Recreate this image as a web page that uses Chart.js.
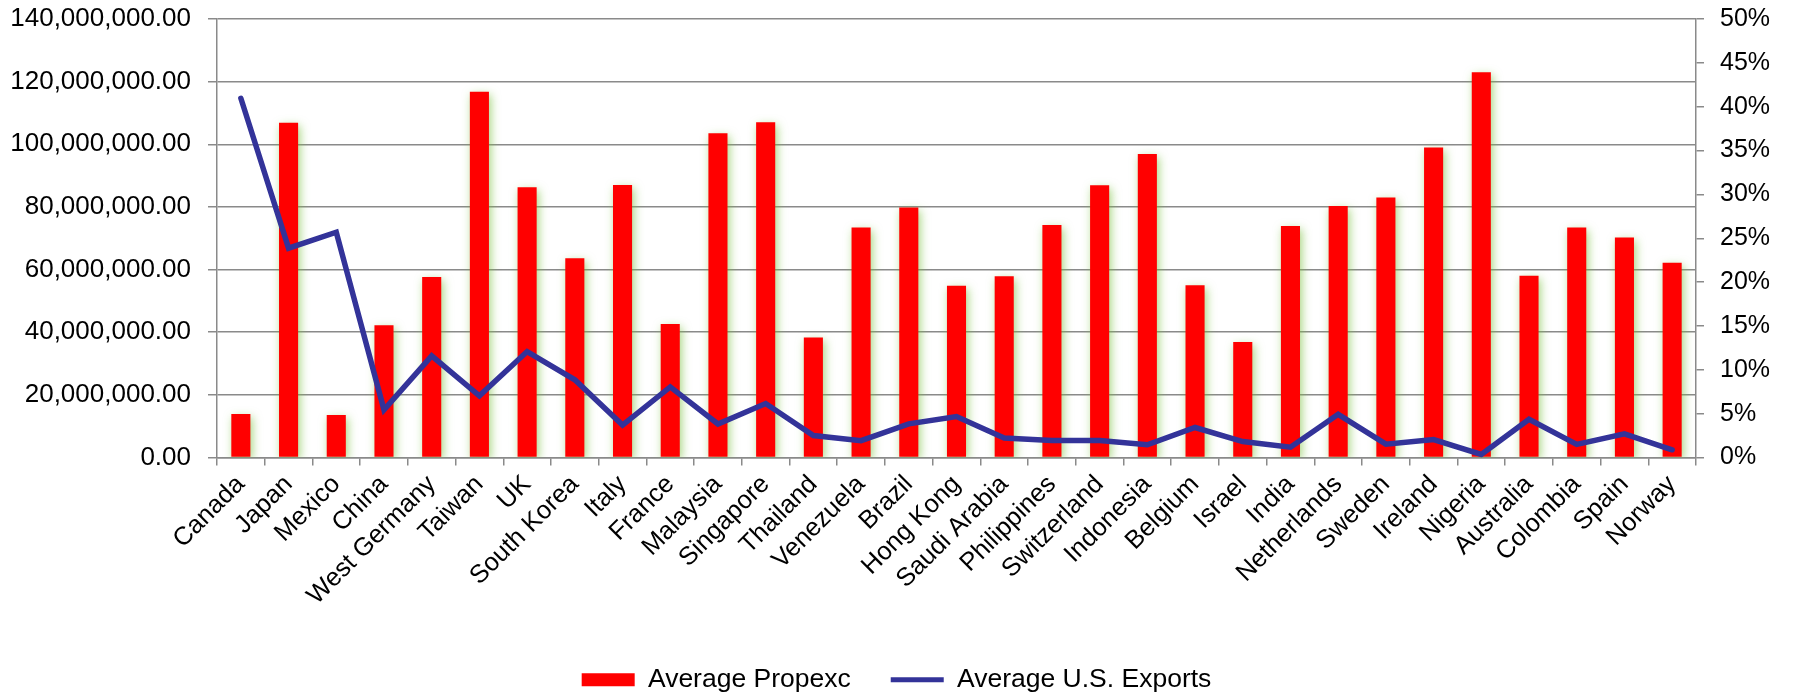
<!DOCTYPE html>
<html>
<head>
<meta charset="utf-8">
<script src="https://cdn.jsdelivr.net/npm/chart.js@4/dist/chart.umd.min.js"></script>
<style>
  html, body { margin: 0; padding: 0; background: #ffffff; }
  #wrap { width: 1793px; height: 698px; position: relative; }
</style>
</head>
<body>
<div id="wrap"><canvas id="c" width="1793" height="698"></canvas></div>
<script>
const categories = ['Canada','Japan','Mexico','China','West Germany','Taiwan','UK','South Korea','Italy','France','Malaysia','Singapore','Thailand','Venezuela','Brazil','Hong Kong','Saudi Arabia','Philippines','Switzerland','Indonesia','Belgium','Israel','India','Netherlands','Sweden','Ireland','Nigeria','Australia','Colombia','Spain','Norway'];

// Average Propexc (values in dollars)
const averagePropexc = [13850000, 106900000, 13600000, 42250000, 57600000, 116800000, 86300000, 63600000, 87000000, 42600000, 103500000, 107000000, 38300000, 73400000, 79800000, 54800000, 57900000, 74200000, 86900000, 96900000, 55000000, 36900000, 73900000, 80300000, 83000000, 99000000, 123000000, 58000000, 73400000, 70200000, 62200000];

// Average U.S. Exports (percent)
const averageUSExports = [40.96, 23.87, 25.69, 5.44, 11.59, 7.03, 12.08, 8.86, 3.7, 8.05, 3.82, 6.15, 2.5, 1.92, 3.84, 4.67, 2.21, 1.94, 1.94, 1.45, 3.42, 1.82, 1.18, 4.92, 1.52, 2.05, 0.35, 4.35, 1.5, 2.7, 0.88];

const leftTicks = { min: 0, max: 140000000, step: 20000000 };
const rightTicks = { min: 0, max: 50, step: 5 };

const FONT = "'Liberation Sans', Arial, sans-serif";
const GRID = '#8a8a8a';

const barShadow = {
  id: 'barShadow',
  beforeDatasetDraw(chart, args) {
    if (args.index === 0) {
      const ctx = chart.ctx;
      ctx.save();
      ctx.shadowColor = 'rgba(120,190,60,0.65)';
      ctx.shadowBlur = 10;
      ctx.shadowOffsetX = 2;
      ctx.shadowOffsetY = 3;
    }
  },
  afterDatasetDraw(chart, args) {
    if (args.index === 0) chart.ctx.restore();
  }
};

const legendShift = {
  id: 'legendShift',
  afterLayout(chart) {
    const lg = chart.legend;
    if (lg) { lg.top += 5; lg.bottom += 5; }
  }
};

function noPad(s) {
  s.paddingTop = 0; s.paddingBottom = 0; s.paddingLeft = 0; s.paddingRight = 0;
}

new Chart(document.getElementById('c'), {
  type: 'bar',
  data: {
    labels: categories,
    datasets: [
      {
        type: 'bar',
        label: 'Average Propexc',
        data: averagePropexc,
        backgroundColor: '#ff0000',
        borderWidth: 0,
        categoryPercentage: 1,
        barPercentage: 0.4,
        yAxisID: 'y',
        order: 2
      },
      {
        type: 'line',
        label: 'Average U.S. Exports',
        data: averageUSExports,
        borderColor: '#333399',
        backgroundColor: '#333399',
        borderWidth: 5.5,
        borderCapStyle: 'round',
        borderJoinStyle: 'miter',
        pointRadius: 0,
        pointHoverRadius: 0,
        tension: 0,
        fill: false,
        yAxisID: 'y1',
        order: 1
      }
    ]
  },
  options: {
    responsive: false,
    animation: false,
    devicePixelRatio: 1,
    layout: { padding: { top: 19, left: 0, right: 0, bottom: 0 } },
    plugins: {
      tooltip: { enabled: false },
      legend: {
        position: 'bottom',
        labels: {
          usePointStyle: true,
          pointStyleWidth: 53,
          boxHeight: 13,
          padding: 40,
          color: '#000',
          font: { family: FONT, size: 26.5 },
          sort: (a, b) => a.datasetIndex - b.datasetIndex,
          generateLabels(chart) {
            return chart.data.datasets.map((ds, i) => ({
              text: ds.label,
              datasetIndex: i,
              fillStyle: ds.type === 'line' ? ds.borderColor : ds.backgroundColor,
              strokeStyle: ds.type === 'line' ? ds.borderColor : ds.backgroundColor,
              lineWidth: ds.type === 'line' ? 5 : 0,
              pointStyle: ds.type === 'line' ? 'line' : 'rect',
              hidden: false,
              fontColor: '#000'
            }));
          }
        }
      }
    },
    scales: {
      x: {
        offset: true,
        grid: { display: true, drawOnChartArea: false, drawTicks: true, tickLength: 8, color: GRID, lineWidth: 1.5, offset: true },
        border: { display: true, color: GRID, width: 1.5 },
        ticks: { autoSkip: false, maxRotation: 45, minRotation: 45, padding: 4, color: '#000', font: { family: FONT, size: 25.5 } },
        afterFit(s) { s.height = 164; noPad(s); }
      },
      y: {
        position: 'left',
        min: leftTicks.min,
        max: leftTicks.max,
        grid: { color: GRID, lineWidth: 1.5, tickLength: 9, drawTicks: true },
        border: { display: true, color: GRID, width: 1.5 },
        ticks: {
          stepSize: leftTicks.step,
          padding: 17,
          color: '#000',
          font: { family: FONT, size: 26 },
          callback: v => Number(v).toLocaleString('en-US', { minimumFractionDigits: 2, maximumFractionDigits: 2 })
        },
        afterFit(s) { s.width = 217; noPad(s); }
      },
      y1: {
        position: 'right',
        min: rightTicks.min,
        max: rightTicks.max,
        grid: { drawOnChartArea: false, drawTicks: true, tickLength: 8, color: GRID, lineWidth: 1.5 },
        border: { display: true, color: GRID, width: 1.5 },
        ticks: {
          stepSize: rightTicks.step,
          padding: 16,
          color: '#000',
          font: { family: FONT, size: 25 },
          callback: v => Math.round(v) + '%'
        },
        afterFit(s) { s.width = 97; noPad(s); }
      }
    }
  },
  plugins: [barShadow, legendShift]
});
</script>
</body>
</html>
